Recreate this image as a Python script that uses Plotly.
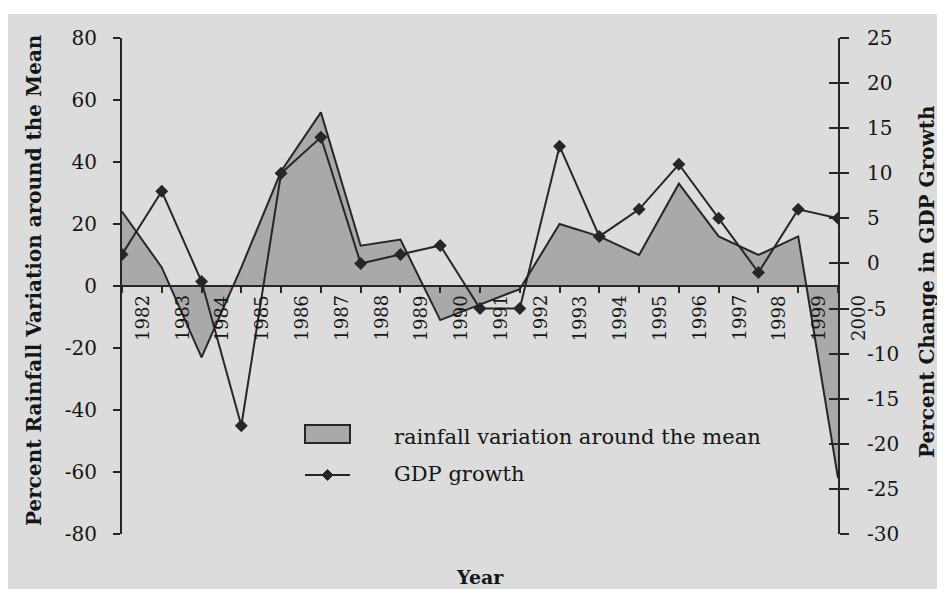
import plotly.graph_objects as go

years = ["1982", "1983", "1984", "1985", "1986", "1987", "1988", "1989", "1990", "1991",
         "1992", "1993", "1994", "1995", "1996", "1997", "1998", "1999", "2000"]
rainfall = [24, 6, -23, 6, 37, 56, 13, 15, -11, -6, -1, 20, 16, 10, 33, 16, 10, 16, -62]
gdp = [1, 8, -2, -18, 10, 14, 0, 1, 2, -5, -5, 13, 3, 6, 11, 5, -1, 6, 5]
left_ticks = [-80, -60, -40, -20, 0, 20, 40, 60, 80]
right_ticks = [-30, -25, -20, -15, -10, -5, 0, 5, 10, 15, 20, 25]

# page is 945x589; the html body adds an 8px margin
OFF = 8
W, H = 945 - OFF, 589 - OFF
PX0, PX1, PY0, PY1 = 122, 838, 38, 534          # plot area in page pixels
L, R = PX0 - OFF, W - (PX1 - OFF)
T, B = PY0 - OFF, H - (PY1 - OFF)
PW, PH = PX1 - PX0, PY1 - PY0

def px(xp):
    return (xp - PX0) / PW

def py(yp):
    return (PY1 - yp) / PH

BG = "#dcdcdc"
FILL = "#a9a9a9"
INK = "#262626"
TXT = "#151515"
FONT = "DejaVu Serif"

idx = list(range(len(years)))

fig = go.Figure()
fig.add_trace(go.Scatter(
    x=idx, y=rainfall, mode="lines", fill="tozeroy", fillcolor=FILL,
    line=dict(color=INK, width=2), name="rainfall variation around the mean",
    yaxis="y", xaxis="x", showlegend=False))
fig.add_trace(go.Scatter(
    x=idx, y=gdp, mode="lines+markers",
    line=dict(color=INK, width=2),
    marker=dict(symbol="diamond", size=10, color=INK),
    name="GDP growth", yaxis="y2", xaxis="x", showlegend=False))
fig.add_trace(go.Scatter(x=[None], y=[None], yaxis="y3", xaxis="x",
                         showlegend=False, hoverinfo="skip"))

fig.update_layout(
    width=W, height=H,
    margin=dict(l=L, r=R, t=T, b=B),
    paper_bgcolor=BG, plot_bgcolor=BG,
    font=dict(family=FONT, color=TXT, size=20),
    showlegend=False,
    xaxis=dict(range=[0, len(years) - 1], anchor="free", position=0.5,
               tickvals=idx, ticktext=["" for _ in idx], ticks="outside", ticklen=6,
               tickwidth=2, tickcolor=INK, showline=True, linecolor=INK, linewidth=2,
               showgrid=False, zeroline=False),
    yaxis=dict(range=[-80, 80], tickvals=left_ticks, ticktext=[str(v) for v in left_ticks],
               ticks="outside", ticklen=7,
               tickwidth=2, tickcolor=INK, showline=True, linecolor=INK, linewidth=2,
               showgrid=False, zeroline=False, ticklabelstandoff=12,
               tickfont=dict(size=20)),
    yaxis2=dict(range=[-30, 25], tickvals=right_ticks, ticktext=[str(v) for v in right_ticks],
                overlaying="y", side="right",
                anchor="x", ticks="outside", ticklen=9, tickwidth=2, tickcolor=INK,
                showline=True, linecolor=INK, linewidth=2, showgrid=False, zeroline=False,
                ticklabelstandoff=14, tickfont=dict(size=20)),
    yaxis3=dict(range=[-30, 25], tickvals=right_ticks, overlaying="y", side="right",
                anchor="x", ticks="inside", ticklen=9, tickwidth=2, tickcolor=INK,
                showticklabels=False, showline=False, showgrid=False, zeroline=False),
)

annotations = []
for i, yr in enumerate(years):
    annotations.append(dict(
        text=yr, xref="paper", yref="paper", x=(i + 0.5) / (len(years) - 1), y=0.5,
        xanchor="center", yanchor="top", yshift=-7, textangle=-90, showarrow=False,
        font=dict(size=18, family=FONT, color=TXT)))
annotations += [
    dict(text="<b>Percent Rainfall Variation around the Mean</b>", xref="paper", yref="paper",
         x=px(34), y=py(280), xanchor="center", yanchor="middle", textangle=-90,
         showarrow=False, font=dict(size=20, family=FONT, color=TXT)),
    dict(text="<b>Percent Change in GDP Growth</b>", xref="paper", yref="paper",
         x=px(927), y=py(282), xanchor="center", yanchor="middle", textangle=-90,
         showarrow=False, font=dict(size=20, family=FONT, color=TXT)),
    dict(text="<b>Year</b>", xref="paper", yref="paper",
         x=px(480), y=py(577), xanchor="center", yanchor="middle",
         showarrow=False, font=dict(size=19, family=FONT, color=TXT)),
    dict(text="rainfall variation around the mean", xref="paper", yref="paper",
         x=px(392), y=py(437), xanchor="left", yanchor="middle",
         showarrow=False, font=dict(size=21, family=FONT, color=TXT)),
    dict(text="GDP growth", xref="paper", yref="paper",
         x=px(392), y=py(474), xanchor="left", yanchor="middle",
         showarrow=False, font=dict(size=21, family=FONT, color=TXT)),
]
fig.update_layout(annotations=annotations)

shapes = [
    # white strip at the very top of the picture
    dict(type="rect", xref="paper", yref="paper", x0=px(0), x1=px(960), y0=py(14), y1=py(0),
         fillcolor="white", line=dict(width=0), layer="below"),
    # legend symbols
    dict(type="rect", xref="paper", yref="paper", x0=px(305), x1=px(350), y0=py(443), y1=py(425),
         fillcolor=FILL, line=dict(color=INK, width=2)),
    dict(type="line", xref="paper", yref="paper", x0=px(305), x1=px(350), y0=py(475), y1=py(475),
         line=dict(color=INK, width=2)),
    dict(type="path", xref="paper", yref="paper",
         path="M {a},{b} L {c},{d} L {a},{e} L {f},{d} Z".format(
             a=px(327.5), b=py(469.5), c=px(333), d=py(475), e=py(480.5), f=px(322)),
         fillcolor=INK, line=dict(color=INK, width=1)),
]
fig.update_layout(shapes=shapes)

fig.write_html("out.html")
